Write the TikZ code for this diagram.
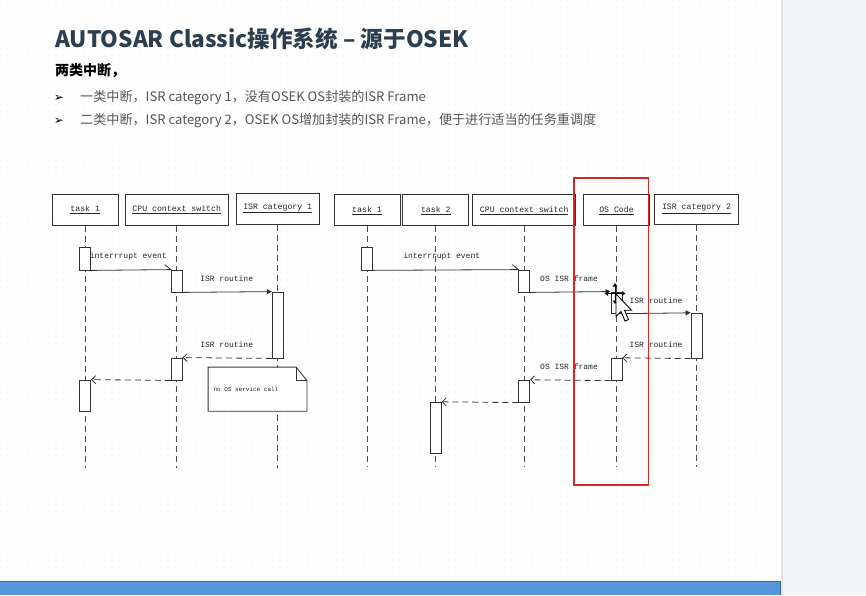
\documentclass[tikz,border=0pt]{standalone}
\usepackage{fontspec}
\newfontfamily\cjk{Noto Sans CJK SC}
\newfontfamily\dejavu{DejaVu Sans}
\newfontfamily\mono{Liberation Mono}
\usetikzlibrary{arrows.meta,patterns.meta}
\definecolor{titlec}{HTML}{2C3E50}
\definecolor{bodyc}{HTML}{555555}
\definecolor{panelc}{HTML}{F4F5F7}
\definecolor{shadowc}{HTML}{E2E3E7}
\definecolor{barc}{HTML}{5596D8}
\definecolor{barline}{HTML}{3C6EA3}
\definecolor{redc}{HTML}{E02424}
\definecolor{linec}{HTML}{333333}
\begin{document}
\begin{tikzpicture}[x=1pt,y=-1pt,
  hdr/.style={draw=linec, line width=1pt, fill=white, minimum height=31pt, inner sep=0pt,
              font=\mono\fontsize{8.2}{9}\selectfont, text=black!85},
  act/.style={draw=linec, line width=0.8pt, fill=white, minimum width=11pt, inner sep=0pt},
  life/.style={draw=black!70, line width=0.8pt, dash pattern=on 6pt off 4pt},
  msg/.style={draw=linec, line width=0.8pt},
  call/.style={msg, -{Triangle[length=5pt,width=5pt]}},
  ret/.style={msg, dash pattern=on 6pt off 4pt, -{Straight Barb[length=4pt,width=8pt]}},
  lbl/.style={font=\mono\fontsize{8}{9}\selectfont, inner sep=0pt, text=black!85},
  bul/.style={anchor=west, inner sep=0pt, font=\cjk\fontsize{13.1}{15}\selectfont, text=bodyc},
  arr/.style={anchor=center, inner sep=0pt, font=\dejavu\bfseries\fontsize{12}{13}\selectfont, text=black}
]
\useasboundingbox (0,0) rectangle (866,595);
% background
\fill[white] (0,0) rectangle (781,595);
\fill[pattern={Dots[distance=7pt,radius=0.5pt]}, pattern color=black!12] (0,0) rectangle (781,581);
\fill[panelc] (781,0) rectangle (866,595);
\fill[shadowc] (781,0) rectangle (783,595);
\fill[barc] (0,581) rectangle (781,595);
\draw[barline, line width=1.2pt] (0,581.6) -- (781,581.6);
\draw[barline, line width=1pt] (780.5,581) -- (780.5,595);

% heading texts
\node[anchor=base west, inner sep=0pt, font=\cjk\bfseries\fontsize{22.6}{26}\selectfont, text=titlec]
  (title) at (55,47.7) {AUTOSAR Classic操作系统 – 源于OSEK};
\node[anchor=west, inner sep=0pt, font=\cjk\bfseries\fontsize{14}{16}\selectfont, text=black]
  (sub) at (55,71) {两类中断，};
\node[arr] (b1) at (59,98) {➢};
\node[bul] (t1) at (80,98) {一类中断，ISR category 1，没有OSEK OS封装的ISR Frame};
\node[arr] (b2) at (59,121) {➢};
\node[bul] (t2) at (80,121) {二类中断，ISR category 2，OSEK OS增加封装的ISR Frame，便于进行适当的任务重调度};

% ===== left diagram =====
\node[hdr, minimum width=65.7pt] (Lt1) at (85.2,210) {\underline{task 1}};
\node[hdr, minimum width=103pt] (Lcpu) at (176.7,210) {\underline{CPU context switch}};
\node[hdr, minimum width=83pt] (Lisr) at (277.7,208.5) {\underline{ISR category 1}};
\coordinate (Lt1e) at (85.2,468);
\coordinate (Lcpue) at (176.7,468);
\coordinate (Lisre) at (277.7,468);
\draw[life] (Lt1.south) -- (Lt1e);
\draw[life] (Lcpu.south) -- (Lcpue);
\draw[life] (Lisr.south) -- (Lisre);

\node[act, minimum height=23pt] (La1) at (85.2,258.5) {};
\node[act, minimum height=22pt] (Lc1) at (176.7,281) {};
\node[act, minimum height=66pt] (Li1) at (277.7,325) {};
\node[act, minimum height=22pt] (Lc2) at (176.7,369) {};
\node[act, minimum height=31pt] (La2) at (85.2,395.5) {};

\draw[msg] (La1.south east) -- (Lc1.north west) -- ++(-6,-5);
\draw[call] (Lc1.south east) -- (Li1.north west);
\draw[ret] (Li1.south west) -- (Lc2.north east);
\draw[ret] (Lc2.south west) -- (La2.north east);
\node[lbl] (Ll1) at (128.3,256) {interrrupt event};
\node[lbl] (Ll2) at (226.7,279) {ISR routine};
\node[lbl] (Ll3) at (226.7,345) {ISR routine};

% note
\node[minimum width=98.4pt, minimum height=43.7pt, inner sep=0pt] (note) at (257.5,389.15) {};
\draw[draw=linec, line width=0.8pt, fill=white]
  (note.north west) -- ([xshift=-10.7pt]note.north east) -- ([yshift=-13.4pt]note.north east)
  -- (note.south east) -- (note.south west) -- cycle;
\draw[draw=linec, line width=0.8pt]
  ([xshift=-10.7pt]note.north east) -- ([xshift=-10.7pt,yshift=-13.4pt]note.north east)
  -- ([yshift=-13.4pt]note.north east);
\node[anchor=west, inner sep=0pt, font=\mono\fontsize{6}{7}\selectfont, text=black!85]
  (notet) at (213.3,389.3) {no OS service call};

% ===== right diagram =====
\node[hdr, minimum width=66pt] (Rt1) at (367,210.3) {\underline{task 1}};
\node[hdr, minimum width=66pt] (Rt2) at (435.8,210.3) {\underline{task 2}};
\node[hdr, minimum width=103pt] (Rcpu) at (524.2,210.3) {\underline{CPU context switch}};
\node[hdr, minimum width=66pt] (Ros) at (616.5,210.3) {\underline{OS Code}};
\node[hdr, minimum width=84pt, minimum height=30pt] (Risr) at (696.5,209) {\underline{ISR category 2}};
\coordinate (Rt1e) at (367,466.7);
\coordinate (Rt2e) at (435.8,466.7);
\coordinate (Rcpue) at (524.2,466.7);
\coordinate (Rose) at (616.5,466.7);
\coordinate (Risre) at (696.5,466.7);
\draw[life] (Rt1.south) -- (Rt1e);
\draw[life] (Rt2.south) -- (Rt2e);
\draw[life] (Rcpu.south) -- (Rcpue);
\draw[life] (Ros.south) -- (Rose);
\draw[life] (Risr.south) -- (Risre);

\node[act, minimum height=22.3pt] (Ra1) at (367,258.8) {};
\node[act, minimum height=22pt] (Rc1) at (524.2,281) {};
\node[act, minimum height=21.3pt] (Ro1) at (616.5,302.6) {};
\node[act, minimum height=45pt] (Ri1) at (696.5,335.7) {};
\node[act, minimum height=22pt] (Ro2) at (616.5,369.2) {};
\node[act, minimum height=22pt] (Rc2) at (524.2,391.2) {};
\node[act, minimum height=51pt] (Rt2a) at (435.8,427.7) {};

\draw[msg] (Ra1.south east) -- (Rc1.north west) -- ++(-6,-5);
\draw[call] (Rc1.south east) -- (Ro1.north west);
\draw[call] (Ro1.south east) -- (Ri1.north west);
\draw[ret] (Ri1.south west) -- (Ro2.north east);
\draw[ret] (Ro2.south west) -- (Rc2.north east);
\draw[ret] (Rc2.south west) -- (Rt2a.north east);
\node[lbl] (Rl1) at (441.7,256) {interrrupt event};
\node[lbl] (Rl2) at (569,278.3) {OS ISR frame};
\node[lbl] (Rl3) at (656,300.3) {ISR routine};
\node[lbl] (Rl4) at (656,344.3) {ISR routine};
\node[lbl] (Rl5) at (569,366.3) {OS ISR frame};

% red highlight
\draw[redc, line width=1.6pt] (573.7,177.7) rectangle (648.3,485);

% mouse cursor (move cross + pointer)
\begin{scope}[line width=1pt, black]
  \draw[{Triangle[length=3.5pt,width=4.5pt]}-{Triangle[length=3.5pt,width=4.5pt]}] (604.5,293.5) -- (625.5,293.5);
  \draw[{Triangle[length=3.5pt,width=4.5pt]}-{Triangle[length=3.5pt,width=4.5pt]}] (615,283) -- (615,304);
\end{scope}
\draw[fill=white, draw=black, line width=0.9pt, line join=miter]
  (616,294) -- (616,316.5) -- (621,311.5) -- (625,321) -- (628.5,319.5) -- (624.5,310.2) -- (631.5,310.2) -- cycle;
\end{tikzpicture}
\end{document}
